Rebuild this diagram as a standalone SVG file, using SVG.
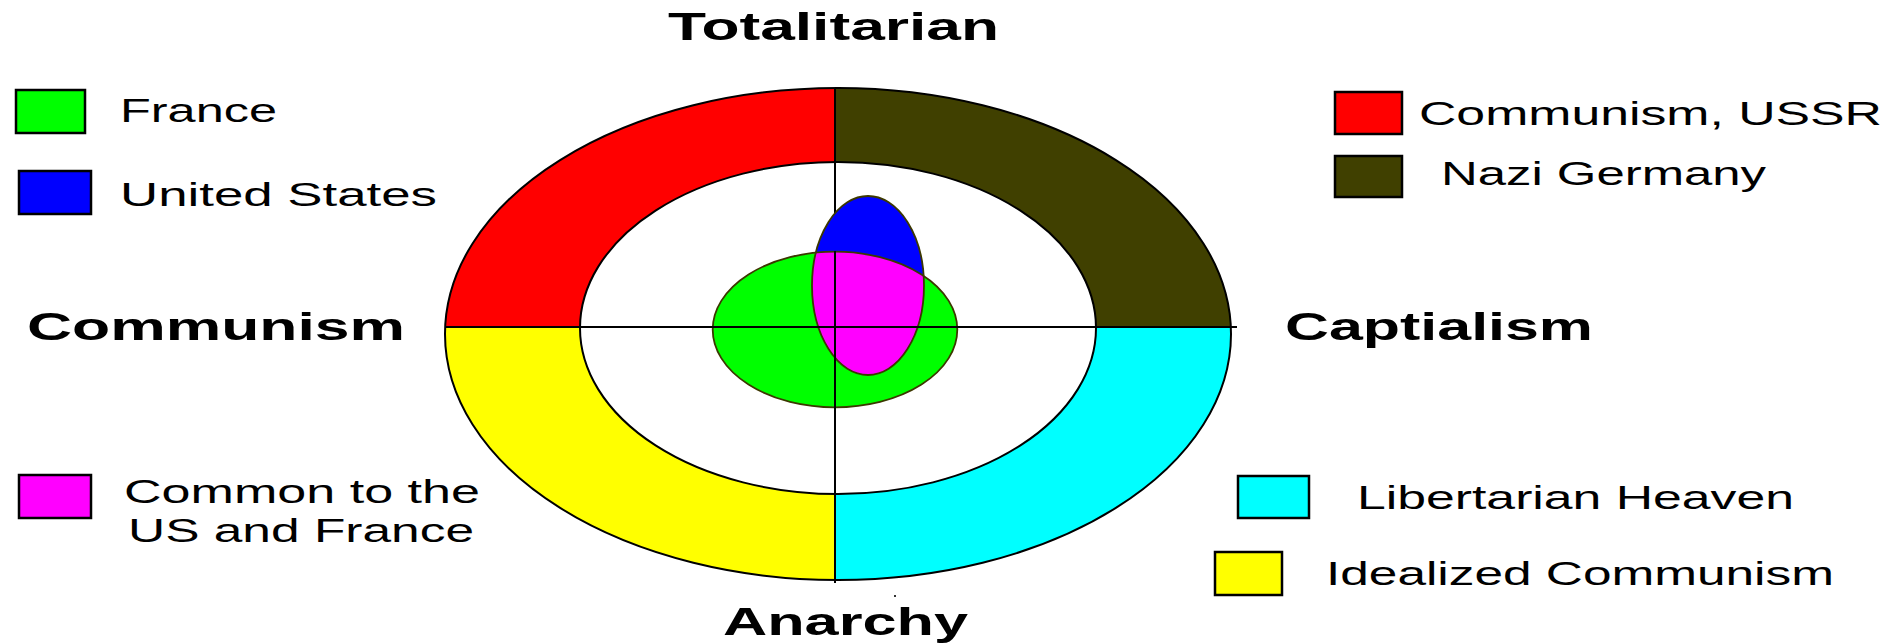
<svg xmlns="http://www.w3.org/2000/svg" width="1899" height="644" viewBox="0 0 1899 644">
<style>
.lbl{font-family:"Liberation Sans",Arial,sans-serif;font-size:34px;fill:#000}
.axis{font-family:"Liberation Sans",Arial,sans-serif;font-size:38px;font-weight:bold;fill:#000}
.box{stroke:#000;stroke-width:2.5}
.ln{stroke:#000;stroke-width:2;fill:none}
.blob{stroke:#3c3800;stroke-width:1.8;fill:none}
</style>
<defs>
<clipPath id="outerClip"><ellipse cx="838" cy="334" rx="393" ry="246"/></clipPath>
<clipPath id="greenClip"><ellipse cx="835" cy="329.5" rx="122.3" ry="77.8"/></clipPath>
</defs>
<rect width="1899" height="644" fill="#fff"/>
<g id="ring">
<g clip-path="url(#outerClip)">
<rect x="440" y="80" width="395" height="247" fill="#ff0000"/>
<rect x="835" y="80" width="400" height="247" fill="#404000"/>
<rect x="440" y="327" width="395" height="260" fill="#ffff00"/>
<rect x="835" y="327" width="400" height="260" fill="#00ffff"/>
</g>
<ellipse cx="838" cy="334" rx="393" ry="246" class="ln"/>
<ellipse cx="838" cy="328" rx="258" ry="166" fill="#fff" stroke="#000" stroke-width="2"/>
</g>
<g id="connectors">
<line x1="835" y1="88" x2="835" y2="583" class="ln"/>
<line x1="445" y1="327" x2="1237" y2="327" class="ln"/>
</g>
<g id="france-us">
<ellipse cx="835" cy="329.5" rx="122.3" ry="77.8" fill="#00ff00"/>
<ellipse cx="868" cy="285.5" rx="56" ry="89.5" fill="#0000ff"/>
<ellipse cx="868" cy="285.5" rx="56" ry="89.5" fill="#ff00ff" clip-path="url(#greenClip)"/>
<ellipse cx="835" cy="329.5" rx="122.3" ry="77.8" class="blob"/>
<ellipse cx="868" cy="285.5" rx="56" ry="89.5" class="blob"/>
<line x1="835" y1="251" x2="835" y2="583" class="ln"/>
<line x1="712" y1="327" x2="958" y2="327" class="ln"/>
</g>
<rect x="894" y="595" width="2" height="2" fill="#333"/>
<g id="axis-labels">
<text class="axis" x="668" y="40" textLength="331" lengthAdjust="spacingAndGlyphs">Totalitarian</text>
<text class="axis" x="27" y="340" textLength="378" lengthAdjust="spacingAndGlyphs">Communism</text>
<text class="axis" x="1285" y="340" textLength="308" lengthAdjust="spacingAndGlyphs">Captialism</text>
<text class="axis" x="723" y="635" textLength="245" lengthAdjust="spacingAndGlyphs">Anarchy</text>
</g>
<g id="legend-france">
<rect class="box" x="16" y="90" width="69" height="43" fill="#00ff00"/>
<text class="lbl" x="120" y="122" textLength="157" lengthAdjust="spacingAndGlyphs">France</text>
</g>
<g id="legend-us">
<rect class="box" x="19" y="171" width="72" height="43" fill="#0000ff"/>
<text class="lbl" x="120" y="206" textLength="317" lengthAdjust="spacingAndGlyphs">United States</text>
</g>
<g id="legend-common">
<rect class="box" x="19" y="475" width="72" height="43" fill="#ff00ff"/>
<text class="lbl" x="124" y="503" textLength="356" lengthAdjust="spacingAndGlyphs">Common to the</text>
<text class="lbl" x="128" y="542" textLength="346" lengthAdjust="spacingAndGlyphs">US and France</text>
</g>
<g id="legend-ussr">
<rect class="box" x="1335" y="92" width="67" height="42" fill="#ff0000"/>
<text class="lbl" x="1419" y="125" textLength="463" lengthAdjust="spacingAndGlyphs">Communism, USSR</text>
</g>
<g id="legend-nazi">
<rect class="box" x="1335" y="156" width="67" height="41" fill="#404000"/>
<text class="lbl" x="1441" y="185" textLength="325" lengthAdjust="spacingAndGlyphs">Nazi Germany</text>
</g>
<g id="legend-libertarian">
<rect class="box" x="1238" y="476" width="71" height="42" fill="#00ffff"/>
<text class="lbl" x="1357" y="509" textLength="437" lengthAdjust="spacingAndGlyphs">Libertarian Heaven</text>
</g>
<g id="legend-idealized">
<rect class="box" x="1215" y="552" width="67" height="43" fill="#ffff00"/>
<text class="lbl" x="1326" y="585" textLength="508" lengthAdjust="spacingAndGlyphs">Idealized Communism</text>
</g>
</svg>
